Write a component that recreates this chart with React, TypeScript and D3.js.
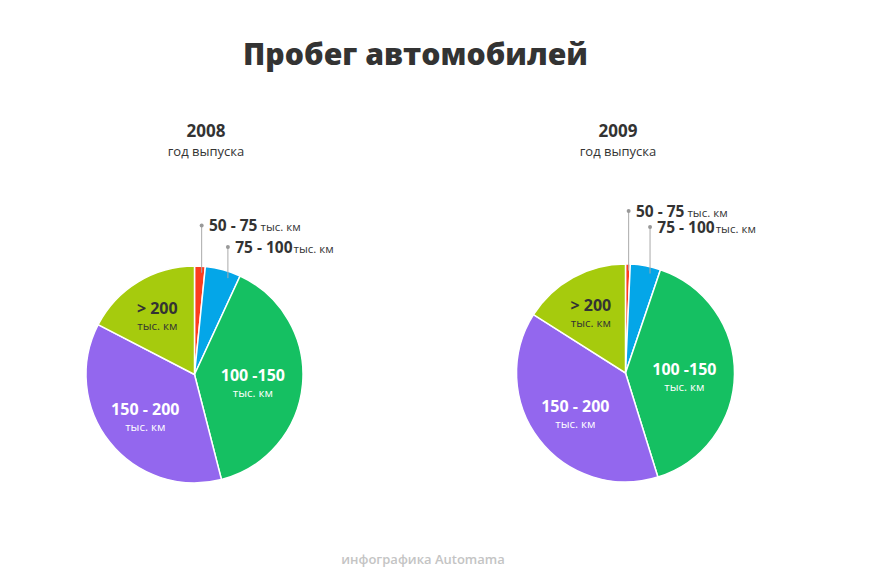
import React from "react";
import * as d3 from "d3";

const categories = ["50 - 75", "75 - 100", "100 -150", "150 - 200", "> 200"];
const unit = "тыс. км";
const colors = ["#fc3d1e", "#04a6e8", "#15c062", "#9367ee", "#a6cb0d"];
const years = ["2008", "2009"];
const yearSub = "год выпуска";
const values2008 = [1.6, 5.3, 39.1, 36.6, 17.4];
const values2009 = [0.7, 4.5, 40.0, 38.8, 16.0];
const title = "Пробег автомобилей";
const footer = "инфографика Automama";

const W = 870;
const H = 584;
const FONT = "'Open Sans', 'Noto Sans', sans-serif";
// radius fraction used to place the inner labels of each category
const labelRadiusFrac = [0, 0, 0.54, 0.58, 0.66];

const pies = [
  { cx: 194.5, cy: 374.5, r: 108.5, titleX: 206, values: values2008, year: years[0], dotOffsets: [-40.5, -19] },
  { cx: 625.5, cy: 373, r: 109, titleX: 618, values: values2009, year: years[1], dotOffsets: [-53, -37] },
];

function Pie({ p }: { p: (typeof pies)[number] }) {
  const pieGen = d3.pie<number>().sort(null).value((d) => d);
  const arcs = pieGen(p.values);
  const arcGen = d3.arc<d3.PieArcDatum<number>>().innerRadius(0).outerRadius(p.r);
  return (
    <g>
      <text x={p.titleX} y={137} textAnchor="middle" fontFamily={FONT} fontWeight={700} fontSize={17} fill="#333">
        {p.year}
      </text>
      <text x={p.titleX} y={156} textAnchor="middle" fontFamily={FONT} fontSize={13} fill="#333">
        {yearSub}
      </text>
      <g transform={`translate(${p.cx},${p.cy})`}>
        {arcs.map((a, i) => (
          <path key={i} d={arcGen(a) || ""} fill={colors[i]} stroke="#fff" strokeWidth={1.5} />
        ))}
        {arcs.map((a, i) => {
          if (i < 2) {
            const ang = a.startAngle + 0.7 * (a.endAngle - a.startAngle);
            const rr = p.r * 0.94;
            const x = rr * Math.sin(ang);
            const y = -rr * Math.cos(ang);
            const dotY = -p.r + p.dotOffsets[i];
            return (
              <g key={"o" + i}>
                <line x1={x} y1={y} x2={x} y2={dotY} stroke="#aaa" strokeWidth={1} />
                <circle cx={x} cy={dotY} r={2} fill="#999" />
                <text x={x + 7.3} y={dotY + 5.5} fontFamily={FONT} fill="#333">
                  <tspan fontWeight={700} fontSize={15.5}>{categories[i]}</tspan>
                  <tspan fontSize={11.5} dx={i === 0 ? 3 : 1}>{unit}</tspan>
                </text>
              </g>
            );
          }
          const lr = p.r * labelRadiusFrac[i];
          const lArc = d3.arc<d3.PieArcDatum<number>>().innerRadius(lr).outerRadius(lr);
          const [lx, ly] = lArc.centroid(a);
          const fill = i === 4 ? "#333" : "#fff";
          return (
            <g key={"l" + i}>
              <text x={lx} y={ly + 1} textAnchor="middle" fontFamily={FONT} fontWeight={700} fontSize={16} fill={fill}>
                {categories[i]}
              </text>
              <text x={lx} y={ly + 17} textAnchor="middle" fontFamily={FONT} fontSize={11.5} fill={fill}>
                {unit}
              </text>
            </g>
          );
        })}
      </g>
    </g>
  );
}

export default function App() {
  return (
    <svg width={W} height={H} style={{ position: "absolute", left: 0, top: 0, background: "#fff" }}>
      <rect width={W} height={H} fill="#fff" />
      <text x={415.5} y={64.5} textAnchor="middle" fontFamily={FONT} fontWeight={800} fontSize={30.2} fill="#333">
        {title}
      </text>
      {pies.map((p, i) => (
        <Pie key={i} p={p} />
      ))}
      <text x={423} y={564} textAnchor="middle" fontFamily={FONT} fontWeight={600} fontSize={13} fill="#c4c4c4">
        {footer}
      </text>
    </svg>
  );
}
